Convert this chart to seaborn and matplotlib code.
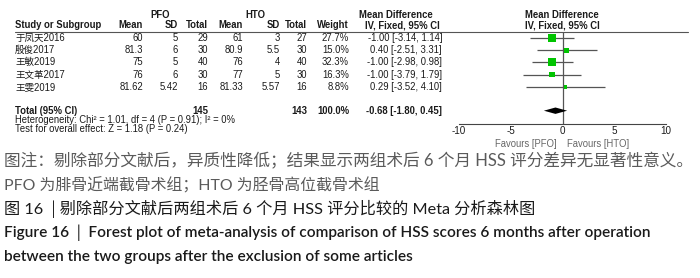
import matplotlib
matplotlib.use("Agg")
import matplotlib.pyplot as plt
from matplotlib.lines import Line2D
import seaborn as sns
import pandas as pd

# ---------------- data ----------------
studies = ["于凤天2016", "殷俊2017", "王敏2019", "王文革2017", "王雯2019"]
pfo_mean = [60, 81.3, 75, 76, 81.62]
pfo_sd = [5, 6, 5, 6, 5.42]
pfo_n = [29, 30, 40, 30, 16]
hto_mean = [61, 80.9, 76, 77, 81.33]
hto_sd = [3, 5.5, 4, 5, 5.57]
hto_n = [27, 30, 40, 30, 16]
weights = [27.7, 15.0, 32.3, 16.3, 8.8]
md = [-1.00, 0.40, -1.00, -1.00, 0.29]
ci_lo = [-3.14, -2.51, -2.98, -3.79, -3.52]
ci_hi = [1.14, 3.31, 0.98, 1.79, 4.10]
pooled = [-0.68, -1.80, 0.45]
total_n = [145, 143]
xticks = [-10, -5, 0, 5, 10]
heterogeneity = "Heterogeneity: Chi² = 1.01, df = 4 (P = 0.91); I² = 0%"
overall = "Test for overall effect: Z = 1.18 (P = 0.24)"
captions = [
    "图注：剔除部分文献后，异质性降低；结果显示两组术后 6 个月 HSS 评分差异无显著性意义。",
    "PFO 为腓骨近端截骨术组；HTO 为胫骨高位截骨术组",
    "图 16 │剔除部分文献后两组术后 6 个月 HSS 评分比较的 Meta 分析森林图",
    "Figure 16 │ Forest plot of meta-analysis of comparison of HSS scores 6 months after operation",
    "between the two groups after the exclusion of some articles",
]

# ---------------- layout ----------------
W, H = 700, 278
sns.set_style("white")
plt.rcParams["font.family"] = ["Liberation Sans", "Noto Sans CJK SC", "DejaVu Sans"]
TAB = ["Liberation Sans", "Noto Sans CJK SC", "DejaVu Sans"]
fig = plt.figure(figsize=(W / 100, H / 100), dpi=100)
fig.patch.set_facecolor("white")

FS = 6.85
TXT = "#1a1a1a"


def T(x, y, s, ha="left", bold=False, size=FS, color=TXT, family=None, va="center"):
    return fig.text(x / W, 1 - y / H, s, ha=ha, va=va, fontsize=size,
                    fontweight="bold" if bold else "normal", color=color,
                    family=family if family else TAB)


def fmt(v):
    return f"{v:g}"


ROW0, DY = 38.0, 12.2
row_y = [ROW0 + DY * i for i in range(len(studies))]

# headers
T(160, 14.5, "PFO", ha="center", bold=True)
T(255, 14.5, "HTO", ha="center", bold=True)
T(396, 14.5, "Mean Difference", ha="center", bold=True)
T(525, 14.5, "Mean Difference", ha="left", bold=True)
T(15, 25, "Study or Subgroup", bold=True)
col_r = {"pm": 143, "ps": 178, "pn": 208, "hm": 243, "hs": 280, "hn": 307, "w": 349, "ci": 442}
T(col_r["pm"], 25, "Mean", ha="right", bold=True)
T(col_r["ps"], 25, "SD", ha="right", bold=True)
T(col_r["pn"], 25, "Total", ha="right", bold=True)
T(col_r["hm"], 25, "Mean", ha="right", bold=True)
T(col_r["hs"], 25, "SD", ha="right", bold=True)
T(col_r["hn"], 25, "Total", ha="right", bold=True)
T(col_r["w"], 25, "Weight", ha="right", bold=True)
T(402, 25, "IV, Fixed, 95% CI", ha="center", bold=True)
T(525, 25, "IV, Fixed, 95% CI", ha="left", bold=True)
fig.add_artist(Line2D([15 / W, 688 / W], [1 - 31.5 / H] * 2, color="#555555", lw=0.8))

for i, y in enumerate(row_y):
    T(15, y, studies[i])
    T(col_r["pm"], y, fmt(pfo_mean[i]), ha="right")
    T(col_r["ps"], y, fmt(pfo_sd[i]), ha="right")
    T(col_r["pn"], y, fmt(pfo_n[i]), ha="right")
    T(col_r["hm"], y, fmt(hto_mean[i]), ha="right")
    T(col_r["hs"], y, fmt(hto_sd[i]), ha="right")
    T(col_r["hn"], y, fmt(hto_n[i]), ha="right")
    T(col_r["w"], y, f"{weights[i]:.1f}%", ha="right")
    T(col_r["ci"], y, f"{md[i]:.2f} [{ci_lo[i]:.2f}, {ci_hi[i]:.2f}]", ha="right")

YT = 110.7
T(15, YT, "Total (95% CI)", bold=True)
T(col_r["pn"], YT, str(total_n[0]), ha="right", bold=True)
T(col_r["hn"], YT, str(total_n[1]), ha="right", bold=True)
T(col_r["w"], YT, "100.0%", ha="right", bold=True)
T(col_r["ci"], YT, f"{pooled[0]:.2f} [{pooled[1]:.2f}, {pooled[2]:.2f}]", ha="right", bold=True)
T(15, 119.8, heterogeneity)
T(15, 128.5, overall)

# ---------------- forest axes ----------------
X0, SCALE = 562.5, 10.35          # pixel of zero, pixels per unit
AX_L, AX_R, AX_T, AX_B = 440, 690, 31.5, 124.0
ax = fig.add_axes([AX_L / W, 1 - AX_B / H, (AX_R - AX_L) / W, (AX_B - AX_T) / H])
ax.set_xlim((AX_L - X0) / SCALE, (AX_R - X0) / SCALE)
ax.set_ylim((AX_B - ROW0) / DY, (AX_T - ROW0) / DY)
ax.patch.set_alpha(0)

df = pd.DataFrame({"md": md, "lo": ci_lo, "hi": ci_hi, "w": weights,
                   "row": list(range(len(studies)))})
ax.hlines(df["row"], df["lo"], df["hi"], color="#555555", lw=0.9, zorder=2)
sns.scatterplot(data=df, x="md", y="row", size="w", sizes=(8, 34), size_norm=(8.8, 32.3),
                marker="s", color="#00c400", edgecolor="none", linewidth=0,
                legend=False, ax=ax, zorder=3)
ax.axvline(0, color="#555555", lw=0.9, zorder=1)
yd = (YT - ROW0) / DY
hh = 3.2 / DY
ax.fill([pooled[1], pooled[0], pooled[2], pooled[0]], [yd, yd - hh, yd, yd + hh],
        color="black", lw=0, zorder=4)

for s in ["top", "left", "right"]:
    ax.spines[s].set_visible(False)
ax.spines["bottom"].set_bounds(xticks[0], xticks[-1])
ax.spines["bottom"].set_color("#444444")
ax.spines["bottom"].set_linewidth(0.8)
ax.set_xticks(xticks)
ax.set_xticklabels([str(t) for t in xticks])
ax.tick_params(axis="x", direction="in", length=4, width=0.8, color="#444444",
               labelsize=FS + 0.3, pad=1.5, labelcolor=TXT)
ax.set_yticks([])
ax.set_xlabel("")
ax.set_ylabel("")

T(557, 144, "Favours [PFO]", ha="right", color="#666666")
T(567, 144, "Favours [HTO]", ha="left", color="#666666")

# ---------------- captions ----------------
CJK = ["Lato", "Noto Sans CJK SC", "DejaVu Sans"]
LAT = ["Lato", "Noto Sans CJK SC", "DejaVu Sans"]
renderer = fig.canvas.get_renderer()


def fit(x, y, s, target, family, color, weight="normal", fs0=10.0):
    t = fig.text(x / W, 1 - y / H, s, ha="left", va="center", fontsize=fs0,
                 family=family, color=color, fontweight=weight)
    w = t.get_window_extent(renderer).width
    t.set_fontsize(fs0 * target / w)
    return t.get_fontsize()


fit(4, 161, captions[0], 690, CJK, "#5a5a5a")
fit(4, 185, captions[1], 374, CJK, "#5a5a5a")
fit(4, 209, captions[2], 529, CJK, "#1a1a1a")
fs_en = fit(4, 233, captions[3], 648, LAT, "#1a1a1a", weight="semibold")
fig.text(4 / W, 1 - 257 / H, captions[4], ha="left", va="center", fontsize=fs_en,
         family=LAT, color="#1a1a1a", fontweight="semibold")

fig.savefig("out.png", dpi=100, facecolor="white")
